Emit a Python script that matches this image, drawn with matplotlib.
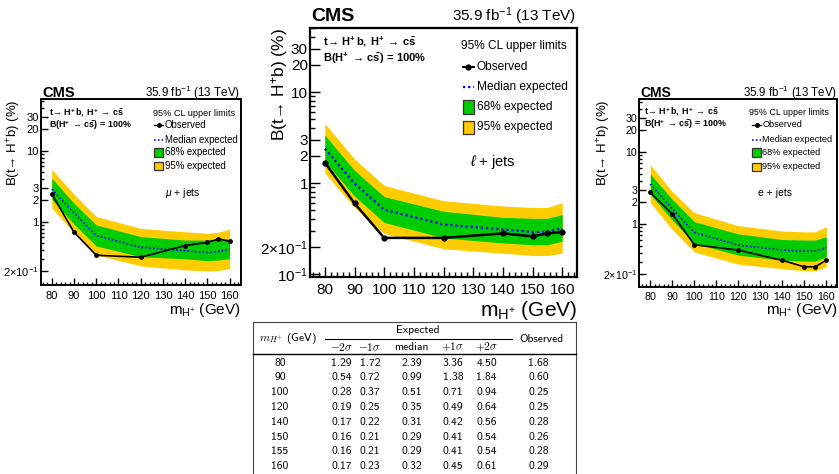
import matplotlib
matplotlib.use("Agg")
import matplotlib.pyplot as plt
from matplotlib.patches import Rectangle
from matplotlib.lines import Line2D
from matplotlib.ticker import FixedLocator, FixedFormatter, NullFormatter

plt.rcParams['font.family'] = ['Liberation Sans', 'DejaVu Sans']
plt.rcParams['mathtext.fontset'] = 'custom'
plt.rcParams['mathtext.rm'] = 'Liberation Sans'
plt.rcParams['mathtext.it'] = 'Liberation Sans:italic'
plt.rcParams['mathtext.bf'] = 'Liberation Sans:bold'

# charged Higgs masses (GeV)
mass = [80, 90, 100, 120, 140, 150, 155, 160]

# l + jets limits (%), from the table
lj_m2 = [1.29, 0.54, 0.28, 0.19, 0.17, 0.16, 0.16, 0.17]
lj_m1 = [1.72, 0.72, 0.37, 0.25, 0.22, 0.21, 0.21, 0.23]
lj_med = [2.39, 0.99, 0.51, 0.35, 0.31, 0.29, 0.29, 0.32]
lj_p1 = [3.36, 1.38, 0.71, 0.49, 0.42, 0.41, 0.41, 0.45]
lj_p2 = [4.50, 1.84, 0.94, 0.64, 0.56, 0.54, 0.54, 0.61]
lj_obs = [1.68, 0.60, 0.25, 0.25, 0.28, 0.26, 0.28, 0.29]

# mu + jets limits (%)
mu_m2 = [1.57, 0.69, 0.34, 0.238, 0.209, 0.202, 0.204, 0.22]
mu_m1 = [2.06, 0.92, 0.454, 0.32, 0.30, 0.282, 0.288, 0.30]
mu_med = [2.88, 1.33, 0.635, 0.435, 0.39, 0.366, 0.378, 0.41]
mu_p1 = [4.08, 1.81, 0.90, 0.615, 0.55, 0.55, 0.56, 0.57]
mu_p2 = [5.46, 2.43, 1.18, 0.805, 0.72, 0.685, 0.71, 0.79]
mu_obs = [2.45, 0.71, 0.336, 0.315, 0.46, 0.51, 0.57, 0.53]

# e + jets limits (%)
e_m2 = [1.98, 0.84, 0.41, 0.278, 0.24, 0.225, 0.225, 0.255]
e_m1 = [2.58, 1.14, 0.54, 0.37, 0.316, 0.306, 0.306, 0.35]
e_med = [3.59, 1.62, 0.766, 0.51, 0.435, 0.42, 0.42, 0.47]
e_p1 = [4.95, 2.2, 1.08, 0.73, 0.61, 0.60, 0.60, 0.667]
e_p2 = [6.67, 2.81, 1.44, 0.95, 0.80, 0.78, 0.78, 0.92]
e_obs = [2.75, 1.38, 0.516, 0.435, 0.313, 0.255, 0.255, 0.316]

col_head = [r'$-2\sigma$', r'$-1\sigma$', 'median', r'$+1\sigma$', r'$+2\sigma$']

GREEN = '#00cc00'
YELLOW = '#ffcc00'
W, H = 839, 474


def fx(x):
    return x / W


def fy(y):
    return 1 - y / H


def draw_panel(ax, m2, m1, med, p1, p2, obs, channel, s):
    ax.fill_between(mass, m2, p2, color=YELLOW, lw=0)
    ax.fill_between(mass, m1, p1, color=GREEN, lw=0)
    ax.plot(mass, med, color='blue', ls=(0, (1, 1.3)), lw=s['lw_med'])
    ax.plot(mass, obs, color='black', lw=s['lw_obs'], marker='o', ms=s['ms'])
    ax.set_yscale('log')
    ax.set_xlim(75, 165)
    ax.set_ylim(*s['ylim'])

    yt = [0.1, 0.2, 1, 2, 3, 10, 20, 30]
    yl = ['10$^{-1}$', '2$\\times$10$^{-1}$', '1', '2', '3', '10', '20', '30']
    if s['ylim'][0] > 0.1:
        yt, yl = yt[1:], yl[1:]
    ax.yaxis.set_major_locator(FixedLocator(yt))
    ax.yaxis.set_major_formatter(FixedFormatter(yl))
    minors = [k * 10.0 ** e for e in (-2, -1, 0, 1) for k in range(2, 10)]
    ax.yaxis.set_minor_locator(FixedLocator([v for v in minors if v not in yt]))
    ax.yaxis.set_minor_formatter(NullFormatter())
    ax.set_xticks(range(80, 161, 10))
    ax.set_xticks(range(76, 165, 2), minor=True)
    ax.tick_params(which='both', direction='in', top=False, right=False,
                   labelsize=s['tick'], width=1)
    ax.tick_params(which='major', length=s['tl'])
    ax.tick_params(which='minor', length=s['tl'] * 0.5)
    ax.tick_params(axis='x', pad=4)
    ax.tick_params(axis='y', pad=1.5)
    for sp in ax.spines.values():
        sp.set_linewidth(s['spine'])

    ax.set_ylabel('B(t→ H$^{+}$b) (%)', fontsize=s['ylab'], loc='top')
    ax.yaxis.set_label_coords(s['ylab_x'], 1.0)
    ax.yaxis.label.set_verticalalignment('center')
    ax.set_xlabel(r'm$_{\mathrm{H^{+}}}$ (GeV)', fontsize=s['xlab'], loc='right')
    ax.xaxis.set_label_coords(1.0, s['xlab_y'])
    ax.xaxis.label.set_verticalalignment('center')

    ax.text(0.006, s['top_y'], 'CMS', transform=ax.transAxes, fontsize=s['cms'],
            fontweight='bold', va='baseline', ha='left')
    ax.text(0.998, s['top_y'], r'35.9 fb$^{-1}$ (13 TeV)', transform=ax.transAxes,
            fontsize=s['lumi'], va='baseline', ha='right')

    ax.text(s['info_x'], s['info_y'][0],
            r'$\mathbf{t\!\rightarrow\,H^{+}\,b,\;H^{+}\;\rightarrow\,c\bar{s}}$',
            transform=ax.transAxes, fontsize=s['info'], va='center')
    ax.text(s['info_x'], s['info_y'][1],
            r'$\mathbf{B(H^{+}\;\rightarrow\,c\bar{s})\,=\,100\%}$',
            transform=ax.transAxes, fontsize=s['info'], va='center')
    ax.text(s['chan_x'], s['chan_y'], channel, transform=ax.transAxes,
            fontsize=s['chan'], va='center')

    # legend
    bx, bw, bh = s['box']
    ax.text(s['head'][0], s['head'][1], '95% CL upper limits', transform=ax.transAxes,
            fontsize=s['lhead'], va='center')
    ys = s['leg_y']
    ax.add_line(Line2D([bx, bx + bw], [ys[0], ys[0]], transform=ax.transAxes,
                       color='black', lw=s['lw_obs'] * 0.8))
    ax.add_line(Line2D([bx + bw / 2], [ys[0]], transform=ax.transAxes,
                       color='black', marker='o', ms=s['ms']))
    ax.add_line(Line2D([bx, bx + bw], [ys[1], ys[1]], transform=ax.transAxes,
                       color='blue', ls=(0, (1, 1.3)), lw=s['lw_med']))
    for y, c in ((ys[2], GREEN), (ys[3], YELLOW)):
        ax.add_patch(Rectangle((bx, y - bh / 2), bw, bh, transform=ax.transAxes,
                               facecolor=c, edgecolor='#333333', lw=0.9))
    labels = ['Observed', 'Median expected', '68% expected', '95% expected']
    for y, t in zip(ys, labels):
        ax.text(s['ltext'], y, t, transform=ax.transAxes, fontsize=s['lent'], va='center')


fig = plt.figure(figsize=(W / 100, H / 100), dpi=100)

ax_mu = fig.add_axes([fx(40.7), fy(285), fx(200), 185.7 / H])
ax_l = fig.add_axes([fx(310), fy(277), fx(267), 249 / H])
ax_e = fig.add_axes([fx(639.3), fy(286.7), fx(198), 187.4 / H])

side_mu = dict(ylim=(0.128, 53), lw_med=1.2, lw_obs=1.2, ms=2.5, tick=8, tl=5,
               spine=1.4, ylab=9.5, ylab_x=-0.132, xlab=11, xlab_y=-0.135,
               top_y=1.014, cms=10.5, lumi=8.4, info=6.4, info_x=0.043,
               info_y=(0.926, 0.863), chan=7.5, chan_x=0.62, chan_y=0.494,
               box=(0.568, 0.045, 0.045), head=(0.563, 0.926), lhead=6.6,
               leg_y=(0.86, 0.782, 0.714, 0.64), ltext=0.62, lent=6.9)
side_e = dict(side_mu, ylim=(0.135, 54), tick=7.7, ylab_x=-0.18, xlab_y=-0.124,
              top_y=1.011, cms=10, lumi=8.3, info=6.4, info_x=0.022,
              info_y=(0.934, 0.867), chan_x=0.60, chan_y=0.5,
              box=(0.571, 0.044, 0.045), head=(0.556, 0.931), lhead=6.4,
              leg_y=(0.863, 0.783, 0.715, 0.64), ltext=0.621, lent=6.6)
center = dict(ylim=(0.093, 50.5), lw_med=1.6, lw_obs=1.8, ms=3.5, tick=11, tl=7,
              spine=1.6, ylab=12.5, ylab_x=-0.116, xlab=15, xlab_y=-0.133,
              top_y=1.029, cms=14, lumi=11, info=8, info_x=0.049,
              info_y=(0.943, 0.879), chan=10.5, chan_x=0.60, chan_y=0.463,
              box=(0.572, 0.042, 0.053), head=(0.566, 0.928), lhead=8.6,
              leg_y=(0.845, 0.763, 0.683, 0.602), ltext=0.624, lent=8.6)

draw_panel(ax_mu, mu_m2, mu_m1, mu_med, mu_p1, mu_p2, mu_obs, r'$\mu$ + jets', side_mu)
draw_panel(ax_l, lj_m2, lj_m1, lj_med, lj_p1, lj_p2, lj_obs, r'$\ell$ + jets', center)
draw_panel(ax_e, e_m2, e_m1, e_med, e_p1, e_p2, e_obs, 'e + jets', side_e)

# results table under the central panel
tf = dict(family=['cmss10', 'DejaVu Sans'], math_fontfamily='cm', fontsize=8.3,
          ha='center', va='center')
tl, tr = 253, 576
fig.add_artist(Line2D([fx(tl), fx(tr)], [fy(322), fy(322)], color='#444444', lw=0.8))
fig.add_artist(Line2D([fx(tl), fx(tl)], [fy(322), 0], color='#444444', lw=0.8))
fig.add_artist(Line2D([fx(tr), fx(tr)], [fy(322), 0], color='#444444', lw=0.8))
fig.add_artist(Line2D([fx(325), fx(512)], [fy(339), fy(339)], color='black', lw=0.8))
fig.add_artist(Line2D([fx(tl), fx(tr)], [fy(354), fy(354)], color='black', lw=1.0))

col_x = [341.7, 370, 411.7, 453, 486.7]
fig.text(fx(288), fy(339), r'$m_{H^{+}}$ (GeV)', **tf)
fig.text(fx(418), fy(330), 'Expected', **tf)
fig.text(fx(541.7), fy(339), 'Observed', **tf)
for x, t in zip(col_x, col_head):
    fig.text(fx(x), fy(347), t, **tf)

for i, m in enumerate(mass):
    y = 362.7 + i * 14.8
    fig.text(fx(280), fy(y), str(m), **tf)
    vals = [lj_m2[i], lj_m1[i], lj_med[i], lj_p1[i], lj_p2[i]]
    for x, v in zip(col_x, vals):
        fig.text(fx(x), fy(y), '%.2f' % v, **tf)
    fig.text(fx(538.3), fy(y), '%.2f' % lj_obs[i], **tf)

fig.savefig('out.png', dpi=100)
